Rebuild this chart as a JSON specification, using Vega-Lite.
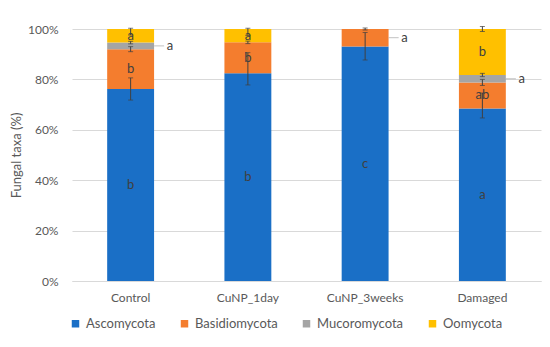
{
  "$schema": "https://vega.github.io/schema/vega-lite/v6.json",
  "width": 469,
  "height": 252,
  "autosize": {"type": "none"},
  "padding": {"left": 72, "top": 29, "right": 9, "bottom": 66},
  "background": "white",
  "config": {
    "font": "Lato",
    "view": {"stroke": null},
    "axis": {"labelFont": "Lato", "titleFont": "Lato"}
  },
  "datasets": {
    "segments": [
      {"group": "Control", "taxon": "Ascomycota", "value": 76.2},
      {"group": "Control", "taxon": "Basidiomycota", "value": 15.8},
      {"group": "Control", "taxon": "Mucoromycota", "value": 2.6},
      {"group": "Control", "taxon": "Oomycota", "value": 5.4},
      {"group": "CuNP_1day", "taxon": "Ascomycota", "value": 82.4},
      {"group": "CuNP_1day", "taxon": "Basidiomycota", "value": 12.3},
      {"group": "CuNP_1day", "taxon": "Oomycota", "value": 5.3},
      {"group": "CuNP_3weeks", "taxon": "Ascomycota", "value": 93.1},
      {"group": "CuNP_3weeks", "taxon": "Basidiomycota", "value": 6.9},
      {"group": "Damaged", "taxon": "Ascomycota", "value": 68.5},
      {"group": "Damaged", "taxon": "Basidiomycota", "value": 10.3},
      {"group": "Damaged", "taxon": "Mucoromycota", "value": 2.9},
      {"group": "Damaged", "taxon": "Oomycota", "value": 18.3}
    ],
    "errors": [
      {"group": "Control", "taxon": "Ascomycota", "lo": 71.8, "hi": 80.6},
      {"group": "Control", "taxon": "Basidiomycota", "lo": 91.0, "hi": 93.0},
      {"group": "Control", "taxon": "Mucoromycota", "lo": 94.1, "hi": 95.1},
      {"group": "Control", "taxon": "Oomycota", "lo": 97.6, "hi": 100.3},
      {"group": "CuNP_1day", "taxon": "Ascomycota", "lo": 77.8, "hi": 90.6},
      {"group": "CuNP_1day", "taxon": "Basidiomycota", "lo": 94.2, "hi": 95.2},
      {"group": "CuNP_1day", "taxon": "Oomycota", "lo": 97.4, "hi": 100.3},
      {"group": "CuNP_3weeks", "taxon": "Ascomycota", "lo": 87.7, "hi": 98.6},
      {"group": "CuNP_3weeks", "taxon": "Basidiomycota", "lo": 99.6, "hi": 100.4},
      {"group": "Damaged", "taxon": "Ascomycota", "lo": 64.7, "hi": 74.6},
      {"group": "Damaged", "taxon": "Basidiomycota", "lo": 77.6, "hi": 80.0},
      {"group": "Damaged", "taxon": "Mucoromycota", "lo": 81.1, "hi": 82.4},
      {"group": "Damaged", "taxon": "Oomycota", "lo": 99.0, "hi": 101.0}
    ],
    "inside": [
      {"group": "Control", "pos": 38.1, "letter": "b"},
      {"group": "Control", "pos": 84.1, "letter": "b"},
      {"group": "Control", "pos": 97.3, "letter": "a"},
      {"group": "CuNP_1day", "pos": 41.2, "letter": "b"},
      {"group": "CuNP_1day", "pos": 88.55, "letter": "b"},
      {"group": "CuNP_1day", "pos": 97.35, "letter": "a"},
      {"group": "CuNP_3weeks", "pos": 46.55, "letter": "c"},
      {"group": "Damaged", "pos": 34.25, "letter": "a"},
      {"group": "Damaged", "pos": 73.65, "letter": "ab"},
      {"group": "Damaged", "pos": 90.85, "letter": "b"}
    ],
    "outside": [
      {"group": "Control", "pos": 93.3, "letter": "a"},
      {"group": "CuNP_3weeks", "pos": 96.55, "letter": "a"},
      {"group": "Damaged", "pos": 80.25, "letter": "a"}
    ]
  },
  "encoding": {
    "x": {
      "field": "group",
      "type": "nominal",
      "sort": ["Control", "CuNP_1day", "CuNP_3weeks", "Damaged"],
      "scale": {"paddingInner": 0.6, "paddingOuter": 0.3},
      "axis": {
        "title": null,
        "labelAngle": 0,
        "ticks": false,
        "domain": true,
        "domainColor": "#d9d9d9",
        "labelColor": "#595959",
        "labelFontSize": 12,
        "labelPadding": 11
      }
    }
  },
  "layer": [
    {
      "data": {"name": "segments"},
      "mark": {"type": "bar"},
      "encoding": {
        "y": {
          "field": "value",
          "type": "quantitative",
          "stack": "zero",
          "scale": {"domain": [0, 100], "nice": false},
          "axis": {
            "values": [0, 20, 40, 60, 80, 100],
            "labelExpr": "datum.value + '%'",
            "title": "Fungal taxa (%)",
            "grid": true,
            "gridColor": "#d9d9d9",
            "domain": false,
            "ticks": false,
            "labelPadding": 14,
            "labelColor": "#595959",
            "labelFontSize": 12,
            "titleColor": "#595959",
            "titleFontSize": 13,
            "titleFontWeight": "normal",
            "titlePadding": 4
          }
        },
        "order": {"field": "taxon", "type": "nominal", "sort": "ascending"},
        "color": {
          "field": "taxon",
          "type": "nominal",
          "scale": {
            "domain": ["Ascomycota", "Basidiomycota", "Mucoromycota", "Oomycota"],
            "range": ["#1a6fc6", "#f47d2e", "#a5a5a5", "#ffc000"]
          },
          "legend": {
            "title": null,
            "orient": "none",
            "legendX": -3,
            "legendY": 288,
            "direction": "horizontal",
            "symbolType": "square",
            "symbolSize": 56,
            "symbolStrokeWidth": 0,
            "labelFontSize": 13,
            "labelColor": "#595959",
            "labelOffset": 4,
            "columnPadding": 22,
            "padding": 0
          }
        }
      }
    },
    {
      "data": {"name": "errors"},
      "mark": {"type": "rule", "color": "#404040", "strokeWidth": 1},
      "encoding": {
        "y": {"field": "lo", "type": "quantitative"},
        "y2": {"field": "hi"}
      }
    },
    {
      "data": {"name": "errors"},
      "mark": {"type": "tick", "orient": "horizontal", "size": 5, "thickness": 1, "color": "#404040"},
      "encoding": {
        "y": {"field": "lo", "type": "quantitative"}
      }
    },
    {
      "data": {"name": "errors"},
      "mark": {"type": "tick", "orient": "horizontal", "size": 5, "thickness": 1, "color": "#404040"},
      "encoding": {
        "y": {"field": "hi", "type": "quantitative"}
      }
    },
    {
      "data": {"name": "inside"},
      "mark": {"type": "text", "align": "center", "baseline": "middle", "fontSize": 13, "color": "#404040"},
      "encoding": {
        "y": {"field": "pos", "type": "quantitative"},
        "text": {"field": "letter"}
      }
    },
    {
      "data": {"name": "outside"},
      "mark": {"type": "tick", "orient": "horizontal", "size": 10, "thickness": 1, "color": "#a6a6a6", "xOffset": 28.5},
      "encoding": {
        "y": {"field": "pos", "type": "quantitative"}
      }
    },
    {
      "data": {"name": "outside"},
      "mark": {"type": "text", "align": "left", "baseline": "middle", "fontSize": 13, "color": "#404040", "dx": 36},
      "encoding": {
        "y": {"field": "pos", "type": "quantitative"},
        "text": {"field": "letter"}
      }
    }
  ]
}
